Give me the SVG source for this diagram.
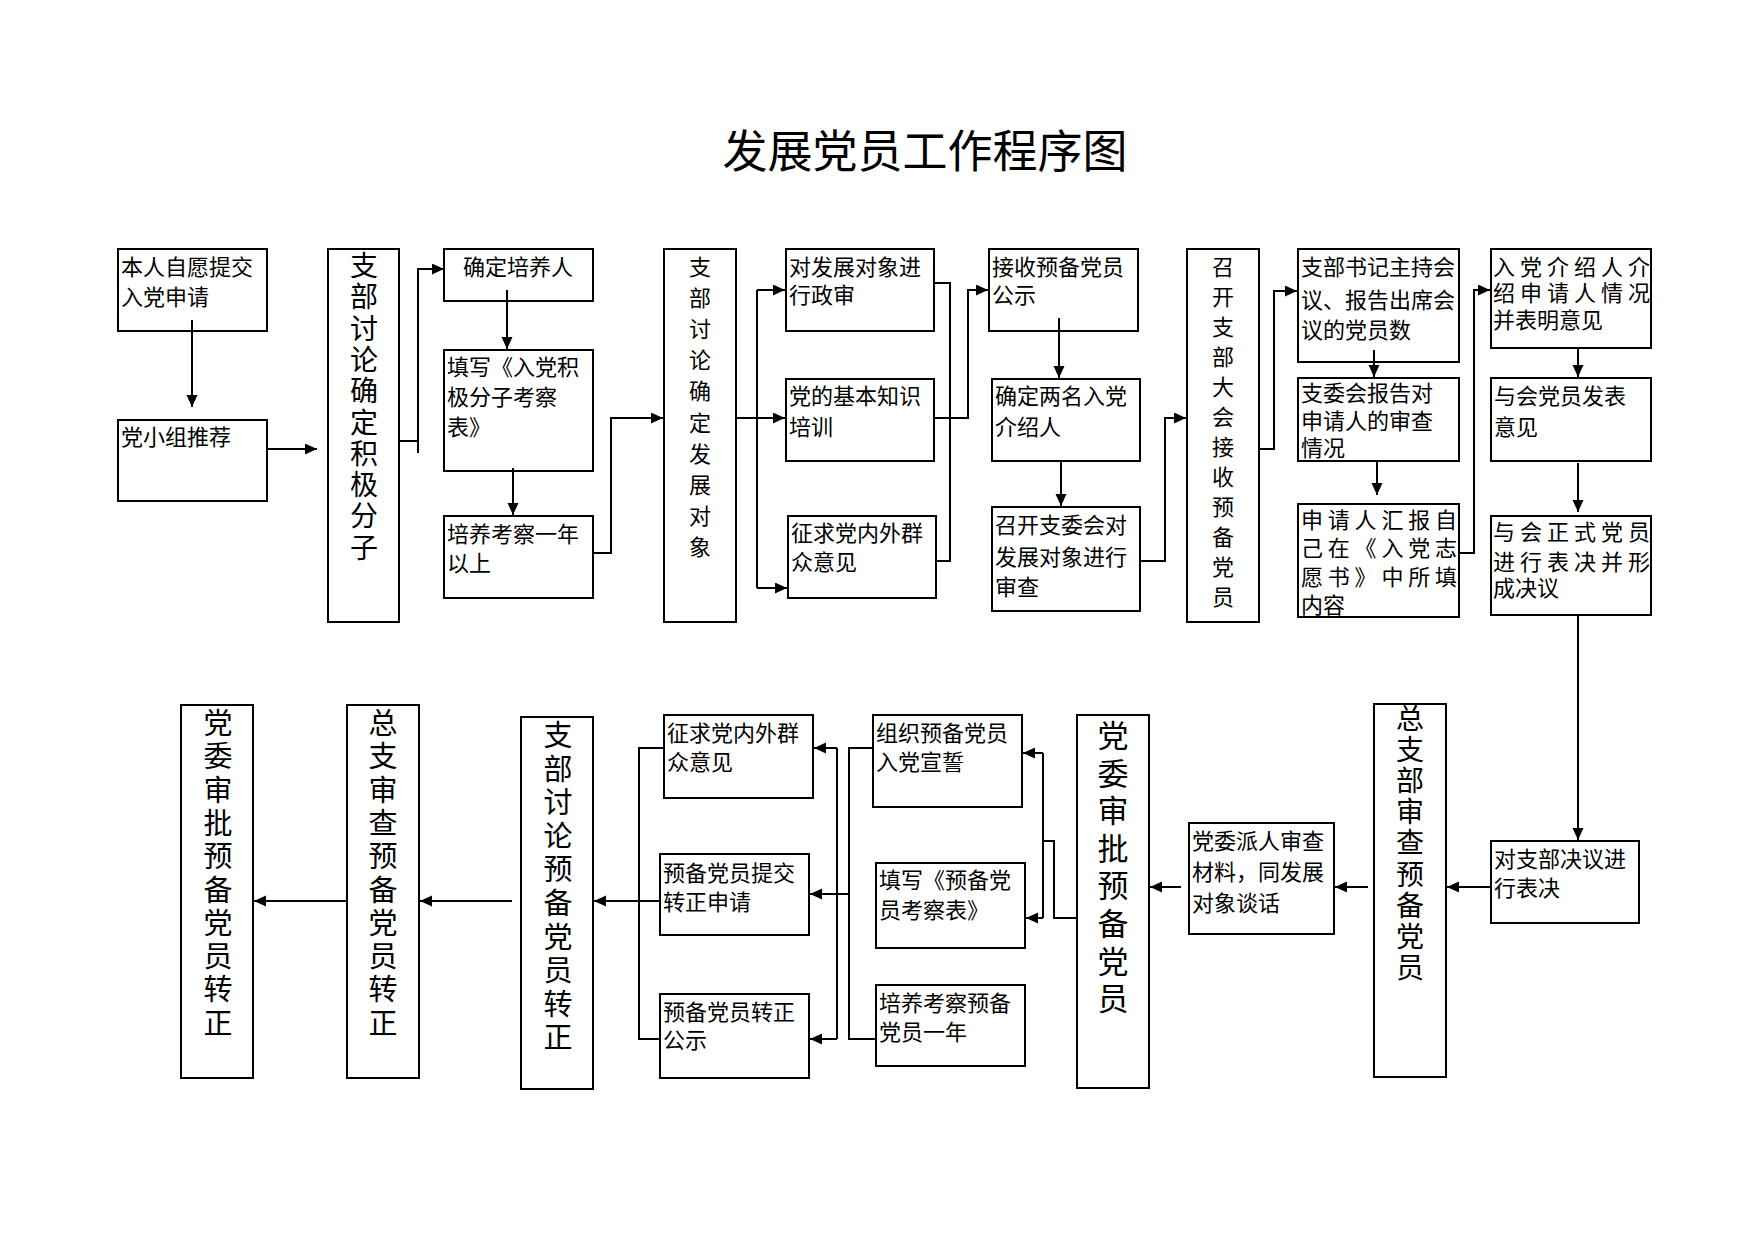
<svg xmlns="http://www.w3.org/2000/svg" width="1754" height="1240" viewBox="0 0 1754 1240">
<defs>
<marker id="ah" markerUnits="userSpaceOnUse" markerWidth="12" markerHeight="12" refX="12" refY="5.5" orient="auto"><path d="M0,0 L12,5.5 L0,11 z" fill="#000"/></marker>
<style>
rect{fill:#fff;stroke:#000;stroke-width:2}
text{font-family:"Noto Sans CJK SC","Noto Sans",sans-serif;fill:#000;font-size:22px}
.c path{fill:none;stroke:#000;stroke-width:2}
.a{marker-end:url(#ah)}
.v{text-anchor:middle}
</style>
</defs>
<rect x="0" y="0" width="1754" height="1240" style="stroke:none"/>
<text x="925" y="168" text-anchor="middle" style="font-size:45px">发展党员工作程序图</text>

<g id="n1"><rect x="118" y="249" width="149" height="82"/><text x="121" y="275">本人自愿提交</text><text x="121" y="305">入党申请</text></g>
<g id="n2"><rect x="118" y="420" width="149" height="81"/><text x="121" y="445">党小组推荐</text></g>
<g id="n3"><rect x="328" y="249" width="71" height="373"/><text class="v" style="font-size:28px"><tspan x="364" y="276">支</tspan><tspan x="364" dy="31.3">部</tspan><tspan x="364" dy="31.3">讨</tspan><tspan x="364" dy="31.3">论</tspan><tspan x="364" dy="31.3">确</tspan><tspan x="364" dy="31.3">定</tspan><tspan x="364" dy="31.3">积</tspan><tspan x="364" dy="31.3">极</tspan><tspan x="364" dy="31.3">分</tspan><tspan x="364" dy="31.3">子</tspan></text></g>
<g id="n4"><rect x="444" y="249" width="149" height="52"/><text x="518" y="275" text-anchor="middle">确定培养人</text></g>
<g id="n5"><rect x="444" y="350" width="149" height="121"/><text x="447" y="375">填写《入党积</text><text x="447" y="405">极分子考察</text><text x="447" y="435">表》</text></g>
<g id="n6"><rect x="444" y="516" width="149" height="82"/><text x="447" y="542">培养考察一年</text><text x="447" y="571">以上</text></g>
<g id="n7"><rect x="664" y="249" width="72" height="373"/><text class="v"><tspan x="700" y="275">支</tspan><tspan x="700" dy="31.1">部</tspan><tspan x="700" dy="31.1">讨</tspan><tspan x="700" dy="31.1">论</tspan><tspan x="700" dy="31.1">确</tspan><tspan x="700" dy="31.1">定</tspan><tspan x="700" dy="31.1">发</tspan><tspan x="700" dy="31.1">展</tspan><tspan x="700" dy="31.1">对</tspan><tspan x="700" dy="31.1">象</tspan></text></g>
<g id="n8"><rect x="786" y="249" width="148" height="82"/><text x="789" y="275">对发展对象进</text><text x="789" y="303">行政审</text></g>
<g id="n9"><rect x="786" y="379" width="148" height="82"/><text x="789" y="404">党的基本知识</text><text x="789" y="435">培训</text></g>
<g id="n10"><rect x="788" y="516" width="148" height="82"/><text x="791" y="541">征求党内外群</text><text x="791" y="570">众意见</text></g>
<g id="n11"><rect x="989" y="249" width="149" height="82"/><text x="992" y="275">接收预备党员</text><text x="992" y="303">公示</text></g>
<g id="n12"><rect x="992" y="379" width="148" height="82"/><text x="995" y="404">确定两名入党</text><text x="995" y="435">介绍人</text></g>
<g id="n13"><rect x="992" y="507" width="148" height="104"/><text x="995" y="533">召开支委会对</text><text x="995" y="565">发展对象进行</text><text x="995" y="595">审查</text></g>
<g id="n14"><rect x="1187" y="249" width="72" height="373"/><text class="v"><tspan x="1223" y="275">召</tspan><tspan x="1223" dy="30">开</tspan><tspan x="1223" dy="30">支</tspan><tspan x="1223" dy="30">部</tspan><tspan x="1223" dy="30">大</tspan><tspan x="1223" dy="30">会</tspan><tspan x="1223" dy="30">接</tspan><tspan x="1223" dy="30">收</tspan><tspan x="1223" dy="30">预</tspan><tspan x="1223" dy="30">备</tspan><tspan x="1223" dy="30">党</tspan><tspan x="1223" dy="30">员</tspan></text></g>
<g id="n15"><rect x="1298" y="249" width="161" height="113"/><text x="1301" y="275">支部书记主持会</text><text x="1301" y="308">议、报告出席会</text><text x="1301" y="338">议的党员数</text></g>
<g id="n16"><rect x="1298" y="378" width="161" height="83"/><text x="1301" y="401">支委会报告对</text><text x="1301" y="429">申请人的审查</text><text x="1301" y="456">情况</text></g>
<g id="n17"><rect x="1298" y="504" width="161" height="113"/><text x="1301" y="528" textLength="156" lengthAdjust="spacing">申请人汇报自</text><text x="1301" y="556" textLength="156" lengthAdjust="spacing">己在《入党志</text><text x="1301" y="585" textLength="156" lengthAdjust="spacing">愿书》中所填</text><text x="1301" y="613">内容</text></g>
<g id="n18"><rect x="1491" y="249" width="160" height="99"/><text x="1493" y="275" textLength="157" lengthAdjust="spacing">入党介绍人介</text><text x="1493" y="301" textLength="157" lengthAdjust="spacing">绍申请人情况</text><text x="1493" y="328">并表明意见</text></g>
<g id="n19"><rect x="1491" y="378" width="160" height="83"/><text x="1494" y="404">与会党员发表</text><text x="1494" y="435">意见</text></g>
<g id="n20"><rect x="1491" y="516" width="160" height="99"/><text x="1493" y="540" textLength="157" lengthAdjust="spacing">与会正式党员</text><text x="1493" y="570" textLength="157" lengthAdjust="spacing">进行表决并形</text><text x="1493" y="596">成决议</text></g>
<g id="n21"><rect x="1491" y="841" width="148" height="82"/><text x="1494" y="867">对支部决议进</text><text x="1494" y="896">行表决</text></g>
<g id="n22"><rect x="1374" y="704" width="72" height="373"/><text class="v" style="font-size:28px"><tspan x="1410" y="729">总</tspan><tspan x="1410" dy="31.1">支</tspan><tspan x="1410" dy="31.1">部</tspan><tspan x="1410" dy="31.1">审</tspan><tspan x="1410" dy="31.1">查</tspan><tspan x="1410" dy="31.1">预</tspan><tspan x="1410" dy="31.1">备</tspan><tspan x="1410" dy="31.1">党</tspan><tspan x="1410" dy="31.1">员</tspan></text></g>
<g id="n23"><rect x="1189" y="823" width="145" height="111"/><text x="1192" y="849">党委派人审查</text><text x="1192" y="880">材料，同发展</text><text x="1192" y="911">对象谈话</text></g>
<g id="n24"><rect x="1077" y="715" width="72" height="373"/><text class="v" style="font-size:31px"><tspan x="1113" y="747">党</tspan><tspan x="1113" dy="37.6">委</tspan><tspan x="1113" dy="37.6">审</tspan><tspan x="1113" dy="37.6">批</tspan><tspan x="1113" dy="37.6">预</tspan><tspan x="1113" dy="37.6">备</tspan><tspan x="1113" dy="37.6">党</tspan><tspan x="1113" dy="37.6">员</tspan></text></g>
<g id="n25"><rect x="873" y="715" width="149" height="92"/><text x="876" y="741">组织预备党员</text><text x="876" y="770">入党宣誓</text></g>
<g id="n26"><rect x="876" y="863" width="149" height="85"/><text x="879" y="888">填写《预备党</text><text x="879" y="918">员考察表》</text></g>
<g id="n27"><rect x="876" y="985" width="149" height="81"/><text x="879" y="1011">培养考察预备</text><text x="879" y="1040">党员一年</text></g>
<g id="n28"><rect x="664" y="715" width="149" height="83"/><text x="667" y="741">征求党内外群</text><text x="667" y="770">众意见</text></g>
<g id="n29"><rect x="660" y="854" width="149" height="81"/><text x="663" y="881">预备党员提交</text><text x="663" y="910">转正申请</text></g>
<g id="n30"><rect x="660" y="994" width="149" height="84"/><text x="663" y="1020">预备党员转正</text><text x="663" y="1048">公示</text></g>
<g id="n31"><rect x="521" y="717" width="72" height="372"/><text class="v" style="font-size:29px"><tspan x="558" y="746">支</tspan><tspan x="558" dy="33.6">部</tspan><tspan x="558" dy="33.6">讨</tspan><tspan x="558" dy="33.6">论</tspan><tspan x="558" dy="33.6">预</tspan><tspan x="558" dy="33.6">备</tspan><tspan x="558" dy="33.6">党</tspan><tspan x="558" dy="33.6">员</tspan><tspan x="558" dy="33.6">转</tspan><tspan x="558" dy="33.6">正</tspan></text></g>
<g id="n32"><rect x="347" y="705" width="72" height="373"/><text class="v" style="font-size:29px"><tspan x="383" y="734">总</tspan><tspan x="383" dy="33.3">支</tspan><tspan x="383" dy="33.3">审</tspan><tspan x="383" dy="33.3">查</tspan><tspan x="383" dy="33.3">预</tspan><tspan x="383" dy="33.3">备</tspan><tspan x="383" dy="33.3">党</tspan><tspan x="383" dy="33.3">员</tspan><tspan x="383" dy="33.3">转</tspan><tspan x="383" dy="33.3">正</tspan></text></g>
<g id="n33"><rect x="181" y="705" width="72" height="373"/><text class="v" style="font-size:29px"><tspan x="218" y="734">党</tspan><tspan x="218" dy="33.3">委</tspan><tspan x="218" dy="33.3">审</tspan><tspan x="218" dy="33.3">批</tspan><tspan x="218" dy="33.3">预</tspan><tspan x="218" dy="33.3">备</tspan><tspan x="218" dy="33.3">党</tspan><tspan x="218" dy="33.3">员</tspan><tspan x="218" dy="33.3">转</tspan><tspan x="218" dy="33.3">正</tspan></text></g>

<g id="connectors" class="c">
<path class="a" d="M192,320 V407"/>
<path class="a" d="M267,449 H317"/>
<path d="M399,441 H418"/>
<path class="a" d="M418,453 V269 H444"/>
<path class="a" d="M507,290 V349"/>
<path class="a" d="M513,468 V515"/>
<path class="a" d="M593,553 H611 V418 H663"/>
<path d="M736,418 H757 M757,290 V588"/>
<path class="a" d="M757,290 H785"/>
<path class="a" d="M757,418 H785"/>
<path class="a" d="M757,588 H787"/>
<path d="M934,283 H950 V561 H936"/>
<path class="a" d="M934,418 H968 V290 H988"/>
<path class="a" d="M1059,318 V378"/>
<path class="a" d="M1061,461 V506"/>
<path class="a" d="M1140,561 H1165 V418 H1186"/>
<path class="a" d="M1259,449 H1274 V291 H1297"/>
<path class="a" d="M1374,350 V377"/>
<path class="a" d="M1377,461 V495"/>
<path class="a" d="M1459,553 H1474 V290 H1490"/>
<path class="a" d="M1578,348 V377"/>
<path class="a" d="M1578,463 V512"/>
<path class="a" d="M1578,615 V840"/>
<path class="a" d="M1491,887 H1447"/>
<path class="a" d="M1368,887 H1335"/>
<path class="a" d="M1181,887 H1150"/>
<path d="M1077,918 H1054 V841 H1043 M1043,753 V918"/>
<path class="a" d="M1043,753 H1023"/>
<path class="a" d="M1043,918 H1026"/>
<path d="M873,748 H849 V1039 H876"/>
<path class="a" d="M849,894 H810"/>
<path d="M837,748 V1039"/>
<path class="a" d="M837,748 H814"/>
<path class="a" d="M837,1039 H810"/>
<path d="M664,748 H639 V1039 H660"/>
<path class="a" d="M660,901 H594"/>
<path class="a" d="M512,901 H420"/>
<path class="a" d="M347,901 H254"/>
</g>
</svg>
